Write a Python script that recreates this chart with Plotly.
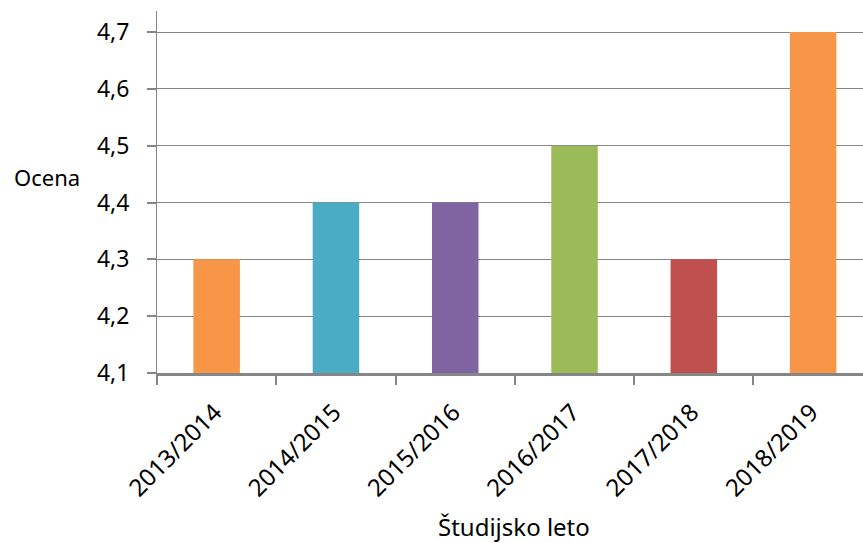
import plotly.graph_objects as go

categories = ["2013/2014", "2014/2015", "2015/2016", "2016/2017", "2017/2018", "2018/2019"]
values = [4.3, 4.4, 4.4, 4.5, 4.3, 4.7]
colors = ["#F79646", "#4BACC6", "#8064A2", "#9BBB59", "#C0504D", "#F79646"]
ytickvals = [4.1, 4.2, 4.3, 4.4, 4.5, 4.6, 4.7]
yticktext = ["4,1", "4,2", "4,3", "4,4", "4,5", "4,6", "4,7"]
baseline = 4.1

FONT = "Noto Sans"
GRID = "#868686"

fig = go.Figure(go.Bar(
    x=categories, y=[v - baseline for v in values], base=baseline,
    marker=dict(color=colors, line=dict(width=0)),
    width=0.39,
))

fig.update_layout(
    width=863, height=543,
    margin=dict(l=157, r=0, t=11, b=170, autoexpand=False),
    paper_bgcolor="white", plot_bgcolor="white",
    showlegend=False,
    font=dict(family=FONT, color="#000000"),
    xaxis=dict(
        range=[-0.5, 5.418], showgrid=False, automargin=False,
        showline=True, linecolor=GRID, linewidth=2.5,
        ticks="outside", tickson="boundaries", ticklen=9, tickwidth=2, tickcolor=GRID,
        tickangle=-45, tickfont=dict(size=24, family=FONT, color="#000"),
        ticklabelstandoff=13, ticklabelshift=-2,
    ),
    yaxis=dict(
        range=[4.1, 4.737], tickvals=ytickvals, ticktext=yticktext,
        showgrid=True, gridcolor=GRID, gridwidth=1, automargin=False,
        showline=True, linecolor=GRID, linewidth=1,
        ticks="outside", ticklen=9, tickwidth=2, tickcolor=GRID,
        tickfont=dict(size=23, family=FONT, color="#000"),
        ticklabelstandoff=13,
        zeroline=False,
    ),
    annotations=[
        dict(text="Ocena", xref="paper", yref="paper", x=-0.2054, y=0.5414,
             xanchor="left", yanchor="middle", showarrow=False,
             font=dict(size=22, family=FONT, color="#000")),
        dict(text="Študijsko leto", xref="paper", yref="paper", x=0.5057, y=-0.4254,
             xanchor="center", yanchor="middle", showarrow=False,
             font=dict(size=24, family=FONT, color="#000")),
    ],
)
fig.write_html("out.html", config={"displayModeBar": False},
               post_script="document.body.style.margin='0px';document.body.style.overflow='hidden';")
